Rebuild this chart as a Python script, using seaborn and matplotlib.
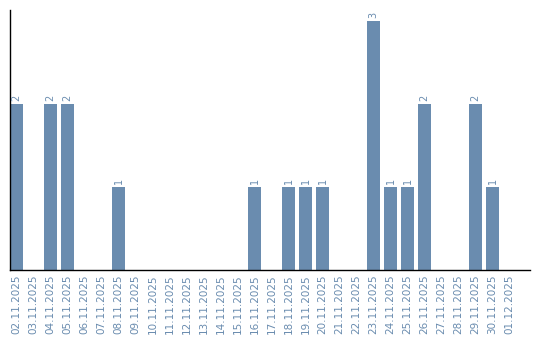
import matplotlib
matplotlib.use("Agg")
import matplotlib.pyplot as plt
import seaborn as sns
import pandas as pd

dates = ["02.11.2025", "03.11.2025", "04.11.2025", "05.11.2025", "06.11.2025",
         "07.11.2025", "08.11.2025", "09.11.2025", "10.11.2025", "11.11.2025",
         "12.11.2025", "13.11.2025", "14.11.2025", "15.11.2025", "16.11.2025",
         "17.11.2025", "18.11.2025", "19.11.2025", "20.11.2025", "21.11.2025",
         "22.11.2025", "23.11.2025", "24.11.2025", "25.11.2025", "26.11.2025",
         "27.11.2025", "28.11.2025", "29.11.2025", "30.11.2025", "01.12.2025"]
counts = [2, 0, 2, 2, 0, 0, 1, 0, 0, 0, 0, 0, 0, 0, 1,
          0, 1, 1, 1, 0, 0, 3, 1, 1, 2, 0, 0, 2, 1, 0]

color = "#6a8caf"
sns.set_theme(style="white")
plt.rcParams['font.family'] = ['DejaVu Sans']

df = pd.DataFrame({"date": dates, "count": counts})
fig = plt.figure(figsize=(5.4, 3.4), dpi=100)
ax = fig.add_axes([10/540, 70/340, 520/540, 260/340])
sns.barplot(data=df, x="date", y="count", color=color, width=0.78,
            saturation=1, ax=ax, order=dates, linewidth=0)

for i, v in enumerate(counts):
    if v > 0:
        ax.text(i, v + 0.03, str(v), rotation=90, ha="center", va="bottom",
                fontsize=7, color=color)

ax.set_xlim(-0.39, 30.2)
ax.set_ylim(0, 3.13)
ax.set_xlabel("")
ax.set_ylabel("")
ax.set_yticks([])
ax.tick_params(axis="x", length=0, pad=3, labelsize=7.5, labelcolor=color, rotation=90)
for s in ["top", "right"]:
    ax.spines[s].set_visible(False)
for s in ["left", "bottom"]:
    ax.spines[s].set_color("black")
    ax.spines[s].set_linewidth(1)

fig.savefig("out.png", dpi=100)
